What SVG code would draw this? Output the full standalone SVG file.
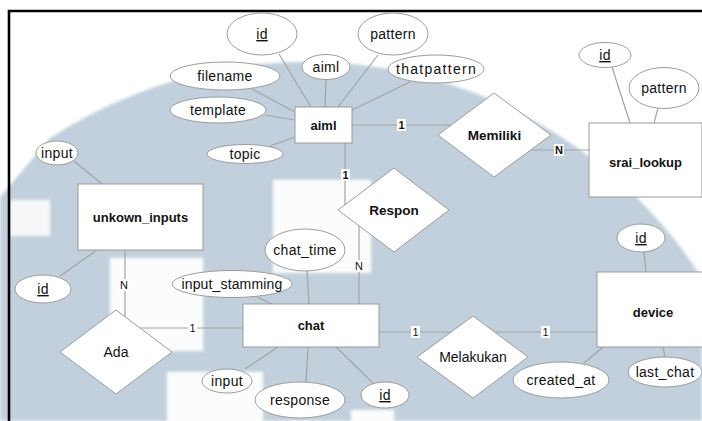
<svg xmlns="http://www.w3.org/2000/svg" width="702" height="421" viewBox="0 0 702 421">
  <defs>
    <filter id="soft" x="-5%" y="-5%" width="110%" height="110%">
      <feGaussianBlur stdDeviation="1.6"/>
    </filter>
  </defs>
  <style>
    .ent rect { fill: #ffffff; stroke: #999999; stroke-width: 1; }
    .attr ellipse { fill: #ffffff; stroke: #9c9c9c; stroke-width: 1; }
    .rel polygon { fill: #ffffff; stroke: #9c9c9c; stroke-width: 1; }
    text { font-family: "Liberation Sans", Arial, sans-serif; fill: #111111; text-anchor: middle; }
    .en { font-size: 13px; font-weight: bold; }
    .rn { font-size: 13.5px; font-weight: bold; }
    .rt { font-size: 14px; }
    .at { font-size: 14px; letter-spacing: 0.3px; }
    .key { text-decoration: underline; }
    #connectors line { stroke: #a3a3a3; stroke-width: 1.2; }
    .card rect { fill: #ffffff; }
    .card text { font-size: 11px; }
    .card .b { font-weight: bold; }
  </style>

  <!-- faint backdrop -->
  <rect x="0" y="0" width="702" height="421" fill="#ffffff"/>
  <g id="backdrop" filter="url(#soft)">
    <path d="M0,197 L50,138 A470,470 0 0 1 702,278 L702,421 L0,421 Z" fill="#c1d0dc"/>
    <rect x="273" y="180" width="98" height="93" fill="#fbfcfd"/>
    <rect x="110" y="258" width="93" height="93" fill="#fbfcfd"/>
    <rect x="167" y="372" width="96" height="60" fill="#fbfcfd"/>
    <rect x="10" y="200" width="40" height="36" fill="#f6f8fa"/>
    <rect x="351" y="410" width="43" height="20" fill="#fbfcfd"/>
  </g>

  <!-- frame -->
  <path d="M9,421 V11 H702" fill="none" stroke="#000000" stroke-width="2.6"/>

  <!-- connectors -->
  <g id="connectors">
    <!-- aiml attributes -->
    <line x1="279" y1="54" x2="311" y2="107"/>
    <line x1="326" y1="79.5" x2="325" y2="107"/>
    <line x1="378" y1="55" x2="338" y2="107"/>
    <line x1="410" y1="82" x2="352" y2="110"/>
    <line x1="252" y1="89" x2="295" y2="112"/>
    <line x1="265" y1="115" x2="295" y2="120"/>
    <line x1="270" y1="146" x2="295" y2="137"/>
    <!-- srai_lookup attributes -->
    <line x1="612" y1="67" x2="630" y2="123"/>
    <line x1="658" y1="108" x2="654" y2="123"/>
    <!-- chat attributes -->
    <line x1="307" y1="271" x2="309" y2="304"/>
    <line x1="257" y1="297" x2="272" y2="304"/>
    <line x1="245" y1="369" x2="278" y2="347"/>
    <line x1="306" y1="382" x2="308" y2="347"/>
    <line x1="336" y1="347" x2="373" y2="383"/>
    <!-- device attributes -->
    <line x1="644" y1="252" x2="646" y2="272"/>
    <line x1="584" y1="363" x2="603" y2="347"/>
    <line x1="663" y1="347" x2="665" y2="357"/>
    <!-- unkown_inputs attributes -->
    <line x1="74" y1="161" x2="102" y2="184"/>
    <line x1="60" y1="276" x2="97" y2="250"/>
    <!-- relationships -->
    <line x1="352" y1="125" x2="451" y2="125"/>
    <line x1="531" y1="150" x2="589" y2="150"/>
    <line x1="345" y1="143" x2="345" y2="205"/>
    <line x1="359" y1="226" x2="359" y2="304"/>
    <line x1="379" y1="332" x2="451" y2="332"/>
    <line x1="494" y1="332" x2="597" y2="332"/>
    <line x1="125" y1="250" x2="125" y2="317"/>
    <line x1="140" y1="328" x2="243" y2="328"/>
  </g>

  <!-- cardinalities -->
  <g id="cardinalities" class="card">
    <rect x="397" y="119" width="9" height="12"/><text class="b" x="401.5" y="129">1</text>
    <rect x="554" y="144" width="10" height="12"/><text class="b" x="559" y="154">N</text>
    <rect x="341" y="169" width="9" height="12"/><text class="b" x="345.5" y="179">1</text>
    <rect x="354" y="260" width="10" height="12"/><text x="359" y="270">N</text>
    <rect x="411" y="326" width="9" height="12"/><text x="415.5" y="336">1</text>
    <rect x="541" y="326" width="9" height="12"/><text x="545.5" y="336">1</text>
    <rect x="119" y="279" width="10" height="12"/><text x="124" y="289">N</text>
    <rect x="188" y="322" width="9" height="12"/><text x="192.5" y="332">1</text>
  </g>

  <!-- entities -->
  <g id="aiml" class="ent">
    <rect x="295" y="107" width="57" height="36"/>
    <text class="en" x="323.5" y="130">aiml</text>
  </g>
  <g id="srai_lookup" class="ent">
    <rect x="589" y="123" width="113" height="74"/>
    <text class="en" x="645.5" y="167">srai_lookup</text>
  </g>
  <g id="chat" class="ent">
    <rect x="243" y="304" width="136" height="43"/>
    <text class="en" x="311" y="330">chat</text>
  </g>
  <g id="device" class="ent">
    <rect x="597" y="272" width="112" height="75"/>
    <text class="en" x="653" y="316.5">device</text>
  </g>
  <g id="unkown_inputs" class="ent">
    <rect x="78" y="184" width="125" height="66"/>
    <text class="en" x="140.5" y="222">unkown_inputs</text>
  </g>

  <!-- relationships -->
  <g id="memiliki" class="rel">
    <polygon points="438,135 494,93 551,135 494,177"/>
    <text class="rn" x="494.5" y="140">Memiliki</text>
  </g>
  <g id="respon" class="rel">
    <polygon points="338,210 394,168 449,210 394,252"/>
    <text class="rn" x="394" y="215">Respon</text>
  </g>
  <g id="melakukan" class="rel">
    <polygon points="417,357 473,316 528,357 473,398"/>
    <text class="rt" x="473" y="362">Melakukan</text>
  </g>
  <g id="ada" class="rel">
    <polygon points="60,352 116,310 172,352 116,394"/>
    <text class="rt" x="116" y="357">Ada</text>
  </g>

  <!-- attributes of aiml -->
  <g id="aiml_id" class="attr"><ellipse cx="262" cy="34" rx="35" ry="21"/><text class="at key" x="262" y="39">id</text></g>
  <g id="aiml_aiml" class="attr"><ellipse cx="326" cy="67" rx="24" ry="12.5"/><text class="at" x="326" y="72">aiml</text></g>
  <g id="aiml_pattern" class="attr"><ellipse cx="393" cy="34" rx="35" ry="21"/><text class="at" x="393" y="39">pattern</text></g>
  <g id="aiml_thatpattern" class="attr"><ellipse cx="436" cy="69" rx="48" ry="14"/><text class="at" x="436" y="74" textLength="80" lengthAdjust="spacing">thatpattern</text></g>
  <g id="aiml_filename" class="attr"><ellipse cx="225" cy="76" rx="55" ry="14"/><text class="at" x="225" y="81">filename</text></g>
  <g id="aiml_template" class="attr"><ellipse cx="218" cy="110" rx="48" ry="13"/><text class="at" x="218" y="115">template</text></g>
  <g id="aiml_topic" class="attr"><ellipse cx="245" cy="154" rx="38" ry="9.5"/><text class="at" x="245" y="159">topic</text></g>

  <!-- attributes of srai_lookup -->
  <g id="srai_id" class="attr"><ellipse cx="605" cy="55" rx="26" ry="12.5"/><text class="at key" x="605" y="60">id</text></g>
  <g id="srai_pattern" class="attr"><ellipse cx="664" cy="88" rx="35" ry="20.5"/><text class="at" x="664" y="93">pattern</text></g>

  <!-- attributes of chat -->
  <g id="chat_time" class="attr"><ellipse cx="305" cy="250" rx="40" ry="21"/><text class="at" x="305" y="255">chat_time</text></g>
  <g id="chat_input_stamming" class="attr"><ellipse cx="232" cy="284" rx="60" ry="13.5"/><text class="at" x="232" y="289" textLength="101" lengthAdjust="spacing">input_stamming</text></g>
  <g id="chat_input" class="attr"><ellipse cx="227" cy="381" rx="25" ry="12"/><text class="at" x="227" y="386">input</text></g>
  <g id="chat_response" class="attr"><ellipse cx="300" cy="400" rx="45" ry="18"/><text class="at" x="300" y="405">response</text></g>
  <g id="chat_id" class="attr"><ellipse cx="385" cy="395" rx="24" ry="13"/><text class="at key" x="385" y="400">id</text></g>

  <!-- attributes of device -->
  <g id="device_id" class="attr"><ellipse cx="641" cy="238" rx="24" ry="14"/><text class="at key" x="641" y="243">id</text></g>
  <g id="device_created_at" class="attr"><ellipse cx="561" cy="380" rx="48" ry="18"/><text class="at" x="561" y="385">created_at</text></g>
  <g id="device_last_chat" class="attr"><ellipse cx="665" cy="372" rx="37" ry="15"/><text class="at" x="665" y="377">last_chat</text></g>

  <!-- attributes of unkown_inputs -->
  <g id="unkown_input" class="attr"><ellipse cx="57" cy="153" rx="21" ry="12"/><text class="at" x="57" y="158">input</text></g>
  <g id="unkown_id" class="attr"><ellipse cx="43" cy="289" rx="28" ry="14"/><text class="at key" x="43" y="294">id</text></g>
</svg>
